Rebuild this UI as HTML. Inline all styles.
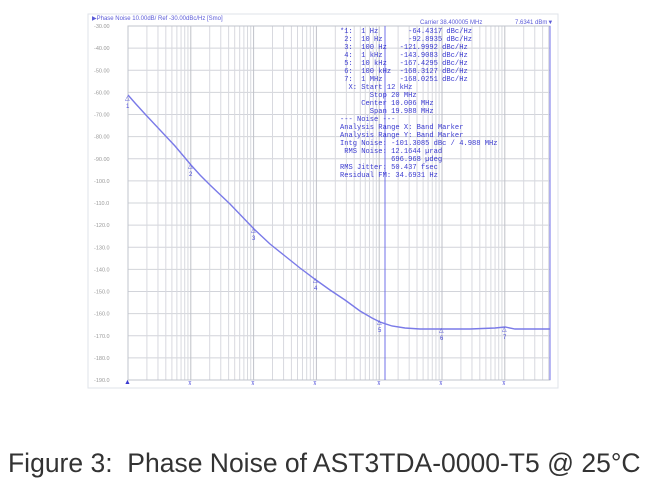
<!DOCTYPE html>
<html><head><meta charset="utf-8"><style>
html,body{margin:0;padding:0;background:#fff;width:649px;height:483px;overflow:hidden}
svg{position:absolute;left:0;top:0}
.cap{position:absolute;left:8px;top:448px;font-family:"Liberation Sans",sans-serif;font-size:26.5px;color:#333;white-space:nowrap}
.mono text{white-space:pre}
</style></head><body>
<svg id="s" width="649" height="483" xmlns="http://www.w3.org/2000/svg" font-family="Liberation Sans, sans-serif">
<rect x="88" y="14" width="470" height="374" fill="#fff" stroke="#dfe3ea"/>
<g id="grid"></g>
<rect x="128" y="26" width="422" height="354" fill="none" stroke="#c0c4cc"/>
<text x="92" y="20" font-size="6" fill="#5a5ad8">▶Phase Noise 10.00dB/ Ref -30.00dBc/Hz [Smo]</text>
<text x="420" y="24" font-size="6" fill="#5a5ad8">Carrier 38.400005 MHz</text>
<text x="515" y="24" font-size="6" fill="#5a5ad8">7.6341 dBm▼</text>
<line x1="385" y1="26" x2="385" y2="380" stroke="#7070e8" stroke-width="1"/>
<line x1="550" y1="26" x2="550" y2="380" stroke="#7070e8" stroke-width="1"/>
<g id="lbl" font-size="5.5" fill="#999"></g>
<g class="mono" font-family="Liberation Mono, monospace" font-size="7.1" fill="#3a3ad0" xml:space="preserve">
<text x="340" y="33">*1:  1 Hz       -64.4317 dBc/Hz</text>
<text x="340" y="41"> 2:  10 Hz      -92.8935 dBc/Hz</text>
<text x="340" y="49"> 3:  100 Hz   -121.9992 dBc/Hz</text>
<text x="340" y="57"> 4:  1 kHz    -143.9083 dBc/Hz</text>
<text x="340" y="65"> 5:  10 kHz   -167.4295 dBc/Hz</text>
<text x="340" y="73"> 6:  100 kHz  -168.3127 dBc/Hz</text>
<text x="340" y="81"> 7:  1 MHz    -168.0251 dBc/Hz</text>
<text x="340" y="89">  X: Start 12 kHz</text>
<text x="340" y="97">       Stop 20 MHz</text>
<text x="340" y="105">     Center 10.006 MHz</text>
<text x="340" y="113">       Span 19.988 MHz</text>
<text x="340" y="121">--- Noise ---</text>
<text x="340" y="129">Analysis Range X: Band Marker</text>
<text x="340" y="137">Analysis Range Y: Band Marker</text>
<text x="340" y="145">Intg Noise: -101.3085 dBc / 4.988 MHz</text>
<text x="340" y="153"> RMS Noise: 12.1644 µrad</text>
<text x="340" y="161">            696.968 µdeg</text>
<text x="340" y="169">RMS Jitter: 50.437 fsec</text>
<text x="340" y="177">Residual FM: 34.6931 Hz</text>
</g>
<polyline fill="none" stroke="#7a7ae8" stroke-width="1.4" points="128,95 135,103 145,114 160,130 175,146 191,165 200,175 210,185 230,204 254,229 270,244 285,256 300,268 316,280 330,290 345,300 360,311 372,318 380,322 392,326 405,328 420,329 442,329 470,329 495,328 505,327 515,329 550,329"/>
<g id="mk" font-size="6" fill="#4848d8"></g>
<text x="124" y="384" font-size="7" fill="#3a3ad0">▲</text>
</svg>
<div class="cap">Figure 3:&nbsp; Phase Noise of AST3TDA-0000-T5 @ 25°C</div>
<script>
var ns="http://www.w3.org/2000/svg",g=document.getElementById('grid'),l=document.getElementById('lbl'),m=document.getElementById('mk');
function el(p,t,a){var e=document.createElementNS(ns,t);for(var k in a)e.setAttribute(k,a[k]);p.appendChild(e);return e;}
var X0=128,D=62.8;
for(var i=0;i<=16;i++){var y=26+i*22.125;el(g,'line',{x1:128,x2:550,y1:y,y2:y,stroke:'#d2d4da','stroke-width':1});
var v=-30-i*10;var t=el(l,'text',{x:94,y:y+2});t.textContent=(v>-100?v.toFixed(2):v.toFixed(1));}
for(var d=0;d<7;d++)for(var k=1;k<10;k++){var x=X0+D*(d+Math.log10(k));if(x>550)break;
el(g,'line',{x1:x,x2:x,y1:26,y2:380,stroke:k==1?'#bfc1c8':'#d8d9df','stroke-width':1});}
var mp=[[128,100,1],[191,168,2],[254,232,3],[316,282,4],[380,324,5],[442,332,6],[505,331,7]];
mp.forEach(function(p){var t=el(m,'text',{x:p[0]-3,y:p[1]});t.textContent='△';var t2=el(m,'text',{x:p[0]-2,y:p[1]+8});t2.textContent=p[2];});
[191,254,316,380,442,505].forEach(function(x){var t=el(m,'text',{x:x-3,y:385,'font-size':5});t.textContent='⊼';});
</script>
</body></html>
